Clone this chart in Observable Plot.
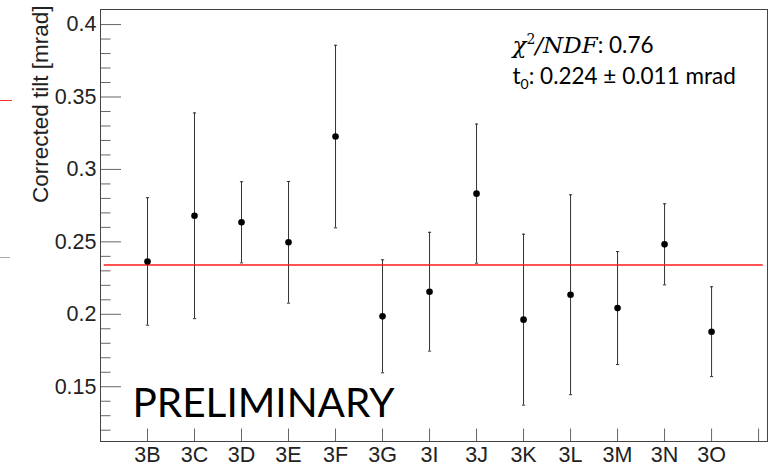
<!DOCTYPE html>
<html><head><meta charset="utf-8">
<script src="https://cdn.jsdelivr.net/npm/d3@7"></script>
<script src="https://cdn.jsdelivr.net/npm/@observablehq/plot@0.6"></script>
<style>
body{margin:0;background:#fff;}
#wrap{position:relative;width:775px;height:466px;overflow:hidden;}
.dash{position:absolute;left:0;height:1px;}
</style></head><body>
<div id="wrap"></div>
<script>
// ---- data ----
const categories = ["3B","3C","3D","3E","3F","3G","3I","3J","3K","3L","3M","3N","3O"];
const tilt       = [0.2365,0.268,0.2635,0.2497,0.3227,0.1986,0.2156,0.2833,0.1963,0.2135,0.2043,0.2483,0.188];
const tiltErr    = [0.044,0.071,0.028,0.042,0.063,0.039,0.041,0.048,0.059,0.069,0.039,0.028,0.031];
const fitValue   = [0.234];
const fitRange   = [-0.92, 13.1];
const yTickValues = [0.15,0.2,0.25,0.3,0.35,0.4];
const yTickLabels = ["0.15","0.2","0.25","0.3","0.35","0.4"];
const xTickPositions = [0,1,2,3,4,5,6,7,8,9,10,11,12,13];
const yLabel = "Corrected tilt [mrad]";
const watermark = "PRELIMINARY";
const chi2ndf = "0.76";
const t0Value = "0.224";
const t0Error = "0.011";
const t0Unit = "mrad";

const yMinor = d3.range(12, 40).map(d => d / 100).filter(d => !yTickValues.some(t => Math.abs(t - d) < 1e-9));
const points = categories.map((c, i) => ({i, cat: c, v: tilt[i], e: tiltErr[i]}));

const W = 775, H = 466, mL = 100, mR = 8, mT = 9, mB = 25;
const fw = W - mL - mR, fh = H - mT - mB;
const capSymbol = {draw(ctx, size) { const r = Math.sqrt(size / Math.PI); ctx.moveTo(-r, 0); ctx.lineTo(r, 0); }};
const AX = "Liberation Sans";
const AXSIZE = 21.5;

const plot = Plot.plot({
  width: W, height: H,
  marginLeft: mL, marginRight: mR, marginTop: mT, marginBottom: mB,
  style: `font-family: '${AX}'; font-size: ${AXSIZE}px; color: #222; background: white; overflow: visible;`,
  x: {type: "linear", domain: [-1, 13.19], axis: null},
  y: {domain: [0.1122, 0.4104], axis: null},
  marks: [
    Plot.ruleY(yMinor, {stroke: "#666", insetRight: fw - 10.5}),
    Plot.ruleY(yTickValues, {stroke: "#666", insetRight: fw - 21}),
    Plot.ruleX(xTickPositions, {stroke: "#666", insetTop: fh - 12.5}),
    // tick labels
    Plot.text(yTickValues, {y: d => d, text: (d, i) => yTickLabels[i], frameAnchor: "left", dx: -4, textAnchor: "end", lineAnchor: "middle", fontSize: AXSIZE, fontFamily: AX, fill: "#222"}),
    Plot.text(points, {x: "i", text: "cat", frameAnchor: "bottom", dy: 5, lineAnchor: "top", textAnchor: "middle", fontSize: AXSIZE, fontFamily: AX, fill: "#222"}),
    Plot.frame({stroke: "#444"}),
    Plot.ruleX(points, {x: "i", y1: d => d.v - d.e, y2: d => d.v + d.e, stroke: "#333", strokeWidth: 1}),
    Plot.dot(points, {x: "i", y: d => d.v + d.e, symbol: capSymbol, r: 1.6, stroke: "#333", strokeWidth: 1}),
    Plot.dot(points, {x: "i", y: d => d.v - d.e, symbol: capSymbol, r: 1.6, stroke: "#333", strokeWidth: 1}),
    Plot.ruleY(fitValue, {x1: fitRange[0], x2: fitRange[1], stroke: "#ff1a1a", strokeWidth: 1.5}),
    Plot.dot(points, {x: "i", y: "v", r: 3.3, fill: "black", stroke: "none"}),
    Plot.text([watermark], {frameAnchor: "bottom-left", dx: 32, dy: -25, lineAnchor: "bottom", textAnchor: "start", fontSize: 40.5, fontFamily: "Lato", fill: "black"}),
    Plot.text([yLabel], {frameAnchor: "top-left", dx: -60, dy: -4, rotate: -90, textAnchor: "end", lineAnchor: "middle", fontSize: 22.5, fontFamily: AX, fill: "#222"}),
    Plot.text(["__CHI__"], {frameAnchor: "top-left", dx: 412, dy: 43, lineAnchor: "bottom", textAnchor: "start", fontSize: 22, fill: "black"}),
    Plot.text(["__T0__"], {frameAnchor: "top-left", dx: 412, dy: 74, lineAnchor: "bottom", textAnchor: "start", fontSize: 22, fill: "black"})
  ]
});

const wrap = document.getElementById("wrap");
wrap.appendChild(plot);

const svg = d3.select(plot);
// rich text for the annotation lines
svg.selectAll("text").filter(function() { return this.textContent === "__CHI__"; }).each(function() {
  const t = d3.select(this); t.text(null);
  t.append("tspan").attr("font-family", "DejaVu Serif").attr("font-style", "italic").attr("font-size", 23).text("χ");
  t.append("tspan").attr("font-family", "DejaVu Serif").attr("font-size", 14).attr("dy", -9).text("2");
  t.append("tspan").attr("font-family", "DejaVu Serif").attr("font-style", "italic").attr("font-size", 23).attr("dy", 9).text("/NDF");
  t.append("tspan").attr("font-family", "Lato").attr("font-size", 22.5).text(": " + chi2ndf);
});
svg.selectAll("text").filter(function() { return this.textContent === "__T0__"; }).each(function() {
  const t = d3.select(this); t.text(null);
  t.append("tspan").attr("font-family", "Lato").attr("font-size", 22.5).text("t");
  t.append("tspan").attr("font-family", "Lato").attr("font-size", 14).attr("dy", 5).text("0");
  t.append("tspan").attr("font-family", "Lato").attr("font-size", 22.5).attr("dy", -5).text(": " + t0Value + " ± " + t0Error + " " + t0Unit);
});

// small slide artefacts at the left edge
const d1 = document.createElement("div"); d1.className = "dash"; d1.style.top = "100px"; d1.style.width = "12px"; d1.style.background = "#ff3030"; wrap.appendChild(d1);
const d2 = document.createElement("div"); d2.className = "dash"; d2.style.top = "257px"; d2.style.width = "10px"; d2.style.background = "#aaa"; wrap.appendChild(d2);
</script>
</body></html>
